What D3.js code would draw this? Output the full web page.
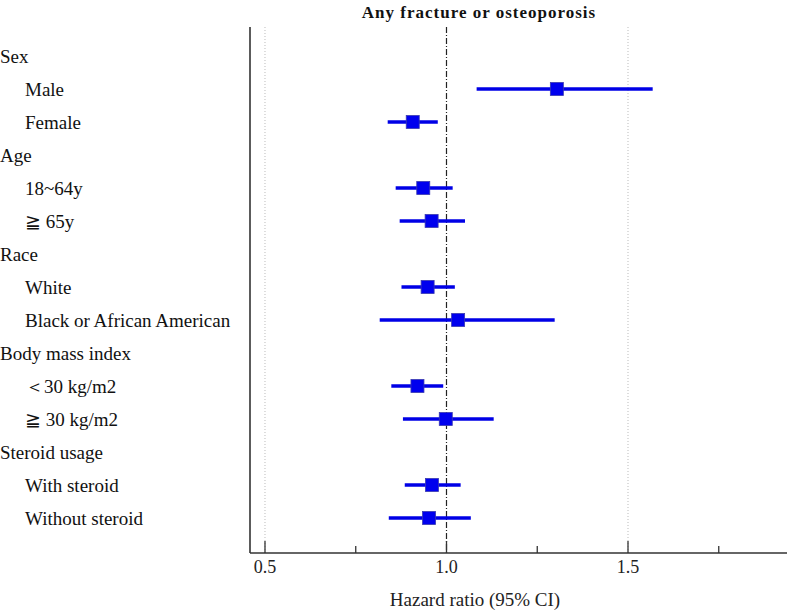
<html lang='eng'>
    <head>
        <script src="https://d3js.org/d3.v7.min.js" charset="utf-8"></script>
        <style>
        body { margin: 0; background: #fff; }
        text { font-family: 'Liberation Serif', 'DejaVu Serif', serif; }
        </style>
    </head>
    <body>
        <script>
            // rows, top to bottom (headers have no estimate)
            var labels = ["Sex", "Male", "Female", "Age", "18~64y", "\u2267 65y", "Race", "White",
                          "Black or African American", "Body mass index", "\uFF1C30 kg/m2", "\u2267 30 kg/m2",
                          "Steroid usage", "With steroid", "Without steroid"]
            var isHeader = [1, 0, 0, 1, 0, 0, 1, 0, 0, 1, 0, 0, 1, 0, 0]
            var hr    = [null, 1.304, 0.907, null, 0.936, 0.959, null, 0.948, 1.032, null, 0.920, 0.998, null, 0.960, 0.952]
            var lower = [null, 1.083, 0.838, null, 0.860, 0.871, null, 0.876, 0.816, null, 0.848, 0.880, null, 0.885, 0.841]
            var upper = [null, 1.568, 0.976, null, 1.017, 1.051, null, 1.023, 1.298, null, 0.991, 1.130, null, 1.039, 1.067]
            var majorTicks = [0.5, 1.0, 1.5]
            var minorTicks = [0.75, 1.25, 1.75]

            var width = 787
            var height = 610

            var svg = d3.select("body")
                        .append("svg")
                        .attr("width", width)
                        .attr("height", height)

            var x = d3.scaleLinear()
                .domain([0.4587, 1.938])
                .range([250, 787])

            var y = d3.scaleLinear()
                .domain([0, labels.length - 1])
                .range([56, 518])

            // note: "top" is taken by window.top
            var yTop = 27, yBottom = 553

            // grid lines at 0.5 and 1.5
            svg.selectAll(".grid")
               .data([0.5, 1.5])
               .enter().append("line")
               .attr("x1", d => x(d)).attr("x2", d => x(d))
               .attr("y1", yTop).attr("y2", yBottom)
               .style("stroke", "#bbb")
               .style("stroke-width", 1)
               .style("stroke-dasharray", "1,2")

            // reference line at 1
            svg.append("line")
               .attr("x1", x(1)).attr("x2", x(1))
               .attr("y1", yTop).attr("y2", yBottom)
               .style("stroke", "#222")
               .style("stroke-width", 1.2)
               .style("stroke-dasharray", "6,2,1,2")

            // axes lines
            svg.append("line")
               .attr("x1", 250).attr("x2", 250)
               .attr("y1", yTop).attr("y2", yBottom)
               .style("stroke", "#333").style("stroke-width", 1.6)
            svg.append("line")
               .attr("x1", 250).attr("x2", width)
               .attr("y1", yBottom).attr("y2", yBottom)
               .style("stroke", "#333").style("stroke-width", 1.6)

            svg.selectAll(".major")
               .data(majorTicks)
               .enter().append("line")
               .attr("x1", d => x(d)).attr("x2", d => x(d))
               .attr("y1", yBottom - 12).attr("y2", yBottom)
               .style("stroke", "#333").style("stroke-width", 1.3)
            svg.selectAll(".minor")
               .data(minorTicks)
               .enter().append("line")
               .attr("x1", d => x(d)).attr("x2", d => x(d))
               .attr("y1", yBottom - 7).attr("y2", yBottom)
               .style("stroke", "#333").style("stroke-width", 1.3)

            svg.selectAll(".ticklabel")
               .data(majorTicks)
               .enter().append("text")
               .attr("x", d => x(d))
               .attr("y", 573)
               .attr("text-anchor", "middle")
               .attr("font-size", "18px")
               .attr("fill", "#222")
               .text(d => d3.format(".1f")(d))

            svg.append("text")
               .attr("x", 475).attr("y", 606)
               .attr("text-anchor", "middle")
               .attr("font-size", "19px")
               .attr("fill", "#222")
               .text("Hazard ratio (95% CI)")

            svg.append("text")
               .attr("x", 479).attr("y", 18)
               .attr("text-anchor", "middle")
               .attr("font-size", "17px")
               .attr("font-weight", "bold")
               .attr("letter-spacing", "1px")
               .attr("fill", "#111")
               .text("Any fracture or osteoporosis")

            // row labels
            svg.selectAll(".rowlabel")
               .data(labels)
               .enter().append("text")
               .attr("x", (d, i) => isHeader[i] ? 0 : 25)
               .attr("y", (d, i) => y(i) + 6.5)
               .attr("font-size", "19px")
               .attr("fill", "#111")
               .text(d => d)

            var rows = d3.range(labels.length).filter(i => hr[i] != null)

            svg.selectAll(".ci")
               .data(rows)
               .enter().append("line")
               .attr("x1", i => x(lower[i])).attr("x2", i => x(upper[i]))
               .attr("y1", i => y(i)).attr("y2", i => y(i))
               .style("stroke", "#0000e6")
               .style("stroke-width", 3.5)

            svg.selectAll(".pt")
               .data(rows)
               .enter().append("rect")
               .attr("x", i => x(hr[i]) - 6.5)
               .attr("y", i => y(i) - 6.5)
               .attr("width", 13).attr("height", 13)
               .style("fill", "#0000ee")
               .style("stroke", "#3a3ab0")
               .style("stroke-width", 0.8)
        </script>
    </body>
</html>
